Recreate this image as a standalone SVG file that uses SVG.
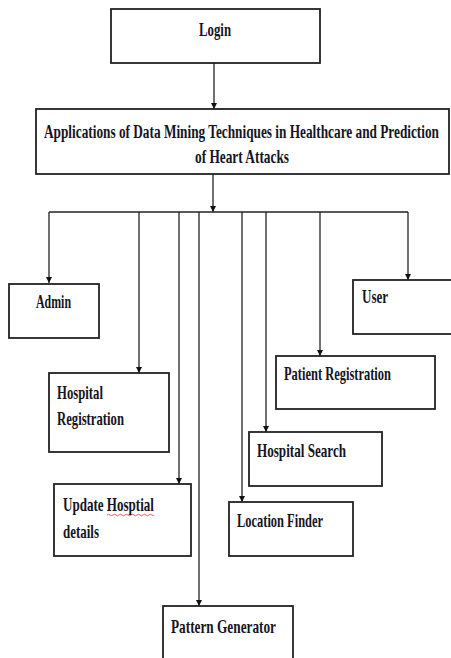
<svg xmlns="http://www.w3.org/2000/svg" width="451" height="658" viewBox="0 0 451 658">
<style>
.box{fill:#fff;stroke:#222;stroke-width:1.8}
.t{font-family:"Liberation Serif","Times New Roman",serif;font-weight:bold;font-size:19px;fill:#15151f}
.c{fill:none;stroke:#222;stroke-width:1.3}
</style>
<defs>
<marker id="ah" viewBox="0 0 10 10" refX="10" refY="5" markerWidth="6" markerHeight="8" markerUnits="userSpaceOnUse" orient="auto">
<path d="M0,0 L10,5 L0,10 z" fill="#111"/>
</marker>
</defs>
<rect width="451" height="658" fill="#fff"/>
<g id="connectors">
<line class="c" x1="214" y1="63" x2="214" y2="109" marker-end="url(#ah)"/>
<line class="c" x1="213" y1="174" x2="213" y2="212" marker-end="url(#ah)"/>
<line class="c" x1="49" y1="212" x2="408" y2="212"/>
<line class="c" x1="49" y1="212" x2="49" y2="283" marker-end="url(#ah)"/>
<line class="c" x1="139" y1="212" x2="139" y2="373" marker-end="url(#ah)"/>
<line class="c" x1="179" y1="212" x2="179" y2="484" marker-end="url(#ah)"/>
<line class="c" x1="199" y1="212" x2="199" y2="606" marker-end="url(#ah)"/>
<line class="c" x1="242" y1="212" x2="242" y2="502" marker-end="url(#ah)"/>
<line class="c" x1="266" y1="212" x2="266" y2="432" marker-end="url(#ah)"/>
<line class="c" x1="320" y1="212" x2="320" y2="356" marker-end="url(#ah)"/>
<line class="c" x1="408" y1="212" x2="408" y2="280" marker-end="url(#ah)"/>
</g>
<g id="login">
<rect class="box" x="111" y="9" width="209" height="54"/>
<text class="t" x="199" y="36" textLength="32" lengthAdjust="spacingAndGlyphs">Login</text>
</g>
<g id="main">
<rect class="box" x="36" y="109" width="413" height="65"/>
<g transform="translate(44,138) scale(0.65,1)">
<text class="t" x="0" y="0" textLength="607.7" lengthAdjust="spacingAndGlyphs">Applications of Data Mining Techniques in Healthcare and Prediction</text>
</g>
<text class="t" x="195" y="163" textLength="94" lengthAdjust="spacingAndGlyphs">of Heart Attacks</text>
</g>
<g id="admin">
<rect class="box" x="9" y="284" width="90" height="54"/>
<text class="t" x="36" y="308" textLength="35" lengthAdjust="spacingAndGlyphs">Admin</text>
</g>
<g id="user">
<rect class="box" x="353" y="280" width="100" height="54"/>
<text class="t" x="362" y="303" textLength="26" lengthAdjust="spacingAndGlyphs">User</text>
</g>
<g id="patient-registration">
<rect class="box" x="276" y="356" width="159" height="53"/>
<text class="t" x="284" y="380" textLength="107" lengthAdjust="spacingAndGlyphs">Patient Registration</text>
</g>
<g id="hospital-registration">
<rect class="box" x="49" y="373" width="120" height="79"/>
<text class="t" x="57" y="399" textLength="46" lengthAdjust="spacingAndGlyphs">Hospital</text>
<text class="t" x="57" y="425" textLength="67" lengthAdjust="spacingAndGlyphs">Registration</text>
</g>
<g id="hospital-search">
<rect class="box" x="249" y="432" width="133" height="54"/>
<text class="t" x="257" y="457" textLength="89" lengthAdjust="spacingAndGlyphs">Hospital Search</text>
</g>
<g id="update-hospital-details">
<rect class="box" x="54" y="484" width="137" height="72"/>
<text class="t" x="63" y="511" textLength="91" lengthAdjust="spacingAndGlyphs">Update Hosptial</text>
<text class="t" x="63" y="538" textLength="36" lengthAdjust="spacingAndGlyphs">details</text>
<path d="M107,515 q1.5,-1.5 3,0 t3,0 t3,0 t3,0 t3,0 t3,0 t3,0 t3,0 t3,0 t3,0 t3,0 t3,0 t3,0 t3,0 t3,0 t2,0" fill="none" stroke="#e33" stroke-width="0.8"/>
</g>
<g id="location-finder">
<rect class="box" x="229" y="502" width="124" height="54"/>
<text class="t" x="237" y="527" textLength="86" lengthAdjust="spacingAndGlyphs">Location Finder</text>
</g>
<g id="pattern-generator">
<rect class="box" x="163" y="606" width="130" height="60"/>
<text class="t" x="171" y="633" textLength="105" lengthAdjust="spacingAndGlyphs">Pattern Generator</text>
</g>
</svg>
